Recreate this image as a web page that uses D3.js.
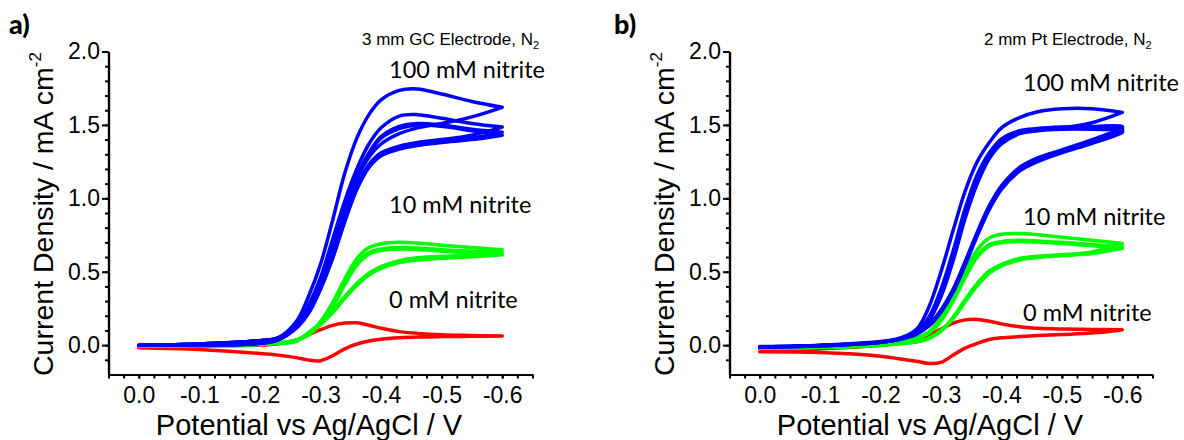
<!DOCTYPE html>
<html><head><meta charset="utf-8">
<script src="https://cdn.jsdelivr.net/npm/d3@7"></script>
<style>
body{margin:0;background:#fff;}
svg{display:block;}
</style></head><body>
<svg id="c" width="1184" height="440"></svg>
<script>
// potential grid (V vs Ag/AgCl) shared by every branch
const potentials = [0, -0.1, -0.2, -0.23, -0.26, -0.28, -0.30, -0.32, -0.34, -0.36, -0.38, -0.40, -0.43, -0.46, -0.50, -0.55, -0.60];

// Panel a: 3 mm GC electrode (current density, mA cm^-2)
const aBlueF1 = [0.00, 0.008, 0.03, 0.05, 0.16, 0.33, 0.55, 0.85, 1.17, 1.41, 1.57, 1.67, 1.735, 1.745, 1.71, 1.66, 1.62];
const aBlueR1 = [0.00, 0.002, 0.012, 0.04, 0.13, 0.26, 0.44, 0.67, 0.92, 1.13, 1.28, 1.37, 1.44, 1.48, 1.51, 1.555, 1.62];
const aBlueF2 = [0.00, 0.008, 0.03, 0.05, 0.13, 0.27, 0.46, 0.72, 0.98, 1.20, 1.37, 1.48, 1.56, 1.57, 1.545, 1.51, 1.485];
const aBlueR2 = [0.00, 0.002, 0.012, 0.035, 0.125, 0.23, 0.40, 0.61, 0.86, 1.08, 1.23, 1.31, 1.355, 1.38, 1.40, 1.43, 1.485];
const aBlueF3 = [0.00, 0.008, 0.03, 0.05, 0.12, 0.25, 0.43, 0.68, 0.94, 1.15, 1.31, 1.42, 1.49, 1.51, 1.50, 1.47, 1.45];
const aBlueR3 = [0.00, 0.002, 0.012, 0.035, 0.12, 0.22, 0.39, 0.60, 0.85, 1.07, 1.22, 1.30, 1.345, 1.37, 1.39, 1.41, 1.45];
const aBlueF4 = [0.00, 0.008, 0.03, 0.05, 0.12, 0.245, 0.42, 0.665, 0.925, 1.14, 1.30, 1.41, 1.475, 1.50, 1.49, 1.46, 1.43];
const aBlueR4 = [0.00, 0.002, 0.012, 0.035, 0.115, 0.215, 0.38, 0.59, 0.84, 1.06, 1.21, 1.29, 1.335, 1.36, 1.38, 1.40, 1.43];

const aGreenF1 = [-0.005, 0.0, 0.008, 0.015, 0.035, 0.075, 0.16, 0.29, 0.45, 0.59, 0.665, 0.69, 0.70, 0.695, 0.68, 0.665, 0.65];
const aGreenR1 = [-0.005, -0.002, 0.005, 0.012, 0.03, 0.085, 0.15, 0.23, 0.33, 0.42, 0.49, 0.535, 0.575, 0.595, 0.605, 0.615, 0.65];
const aGreenF2 = [-0.005, 0.0, 0.008, 0.015, 0.033, 0.07, 0.15, 0.27, 0.425, 0.56, 0.63, 0.655, 0.665, 0.662, 0.65, 0.64, 0.63];
const aGreenR2 = [-0.005, -0.002, 0.005, 0.012, 0.028, 0.08, 0.145, 0.225, 0.325, 0.415, 0.485, 0.53, 0.57, 0.59, 0.60, 0.607, 0.63];
const aGreenF3 = [-0.005, 0.0, 0.008, 0.015, 0.032, 0.068, 0.145, 0.26, 0.41, 0.545, 0.62, 0.645, 0.655, 0.652, 0.64, 0.628, 0.615];
const aGreenR3 = [-0.005, -0.002, 0.005, 0.012, 0.026, 0.078, 0.14, 0.22, 0.318, 0.408, 0.478, 0.522, 0.562, 0.58, 0.592, 0.602, 0.615];

const aRedF = [-0.012, -0.006, 0.0, 0.01, 0.035, 0.07, 0.105, 0.135, 0.15, 0.152, 0.135, 0.115, 0.092, 0.08, 0.071, 0.066, 0.062];
const aRedR = [-0.018, -0.03, -0.057, -0.068, -0.085, -0.102, -0.106, -0.072, -0.025, 0.008, 0.028, 0.04, 0.05, 0.055, 0.058, 0.06, 0.062];

// Panel b: 2 mm Pt electrode
const bBlueF1 = [-0.01, 0.0, 0.025, 0.045, 0.11, 0.26, 0.50, 0.78, 1.05, 1.25, 1.38, 1.48, 1.55, 1.59, 1.61, 1.61, 1.585];
const bBlueR1 = [-0.012, -0.003, 0.02, 0.04, 0.085, 0.18, 0.36, 0.62, 0.90, 1.13, 1.29, 1.39, 1.45, 1.47, 1.48, 1.515, 1.585];
const bBlueF2 = [-0.012, -0.002, 0.02, 0.04, 0.09, 0.19, 0.38, 0.64, 0.93, 1.16, 1.31, 1.405, 1.46, 1.475, 1.485, 1.49, 1.49];
const bBlueR2 = [-0.015, -0.005, 0.02, 0.04, 0.08, 0.14, 0.24, 0.38, 0.57, 0.77, 0.95, 1.085, 1.21, 1.275, 1.33, 1.40, 1.48];
const bBlueF3 = [-0.012, -0.002, 0.02, 0.04, 0.085, 0.17, 0.34, 0.59, 0.88, 1.11, 1.28, 1.38, 1.45, 1.47, 1.48, 1.48, 1.475];
const bBlueR3 = [-0.015, -0.005, 0.02, 0.038, 0.078, 0.135, 0.23, 0.37, 0.555, 0.755, 0.935, 1.07, 1.195, 1.26, 1.32, 1.385, 1.465];
const bBlueF4 = [-0.012, -0.002, 0.02, 0.04, 0.085, 0.165, 0.33, 0.575, 0.865, 1.10, 1.27, 1.37, 1.44, 1.46, 1.47, 1.47, 1.46];
const bBlueR4 = [-0.015, -0.005, 0.02, 0.038, 0.075, 0.13, 0.225, 0.36, 0.545, 0.745, 0.925, 1.06, 1.185, 1.25, 1.31, 1.375, 1.45];

const bGreenF1 = [-0.015, -0.01, 0.005, 0.02, 0.05, 0.09, 0.19, 0.34, 0.50, 0.65, 0.73, 0.755, 0.76, 0.752, 0.735, 0.715, 0.692];
const bGreenR1 = [-0.02, -0.015, 0.0, 0.01, 0.025, 0.048, 0.10, 0.19, 0.31, 0.42, 0.505, 0.55, 0.59, 0.605, 0.615, 0.635, 0.692];
const bGreenF2 = [-0.015, -0.01, 0.005, 0.02, 0.048, 0.085, 0.17, 0.31, 0.47, 0.61, 0.685, 0.705, 0.714, 0.71, 0.70, 0.685, 0.67];
const bGreenR2 = [-0.02, -0.015, 0.0, 0.01, 0.024, 0.046, 0.098, 0.185, 0.30, 0.41, 0.495, 0.545, 0.585, 0.60, 0.612, 0.628, 0.67];
const bGreenF3 = [-0.015, -0.01, 0.005, 0.02, 0.047, 0.083, 0.165, 0.30, 0.46, 0.60, 0.675, 0.698, 0.706, 0.702, 0.692, 0.677, 0.66];
const bGreenR3 = [-0.02, -0.015, 0.0, 0.01, 0.023, 0.045, 0.095, 0.18, 0.295, 0.405, 0.49, 0.54, 0.58, 0.597, 0.61, 0.624, 0.66];

const bRedF = [-0.025, -0.025, 0.0, 0.015, 0.04, 0.07, 0.11, 0.15, 0.172, 0.175, 0.163, 0.145, 0.125, 0.115, 0.11, 0.107, 0.105];
const bRedR = [-0.045, -0.05, -0.075, -0.092, -0.11, -0.125, -0.118, -0.068, -0.02, 0.012, 0.038, 0.05, 0.058, 0.065, 0.072, 0.082, 0.105];

// tick values
const xMajorTicks = [0, -0.1, -0.2, -0.3, -0.4, -0.5, -0.6];
const xMinorTicks = d3.range(0, 29).map(i => +(0.05 - i * 0.025).toFixed(3));
const yMajorTicks = [0, 0.5, 1.0, 1.5, 2.0];
const yMinorTicks = d3.range(-1, 21).map(i => +(i * 0.1).toFixed(2));

// labels
const concLabels = ["100 mM nitrite", "10 mM nitrite", "0 mM nitrite"];

const colors = {blue: "#0000ff", green: "#00ff00", red: "#ff0000"};

const panels = [
  {
    letter: "a)", note: "3 mm GC Electrode, N",
    xr: [108.5, 532.5],
    letterPos: [9, 34], notePos: [362, 45],
    concPos: [[389, 78], [389, 213], [389, 308]],
    titleX: 309, yTitleX: 53,
    red: [[aRedF, aRedR]],
    green: [[aGreenF1, aGreenR1], [aGreenF2, aGreenR2], [aGreenF3, aGreenR3]],
    blue: [[aBlueF1, aBlueR1], [aBlueF2, aBlueR2], [aBlueF3, aBlueR3], [aBlueF4, aBlueR4]]
  },
  {
    letter: "b)", note: "2 mm Pt Electrode, N",
    xr: [729.5, 1152.5],
    letterPos: [614, 34], notePos: [984, 45],
    concPos: [[1023, 91], [1023, 225], [1023, 321]],
    titleX: 930, yTitleX: 674,
    red: [[bRedF, bRedR]],
    green: [[bGreenF1, bGreenR1], [bGreenF2, bGreenR2], [bGreenF3, bGreenR3]],
    blue: [[bBlueF1, bBlueR1], [bBlueF2, bBlueR2], [bBlueF3, bBlueR3], [bBlueF4, bBlueR4]]
  }
];

const svg = d3.select("#c");
const AX = "Liberation Sans, Arial, sans-serif";
const LB = "Lato, 'Open Sans', sans-serif";

panels.forEach(p => {
  const x = d3.scaleLinear().domain([0.05, -0.65]).range(p.xr);
  const y = d3.scaleLinear().domain([-0.2, 2.0]).range([374.5, 51.5]);
  const g = svg.append("g");

  // curves
  const line = d3.line().x(d => x(d[0])).y(d => y(d[1])).curve(d3.curveCatmullRom.alpha(0.5));
  ["red", "green", "blue"].forEach(c => {
    p[c].forEach(([fw, rv]) => {
      const pts = potentials.map((e, i) => [e, fw[i]])
        .concat(potentials.map((e, i) => [e, rv[i]]).reverse());
      g.append("path").attr("d", line(pts)).attr("fill", "none")
        .attr("stroke", colors[c]).attr("stroke-width", 3.5)
        .attr("stroke-linejoin", "round").attr("stroke-linecap", "round");
    });
  });

  // axes
  const fmt = d => (Math.abs(d) < 1e-9 ? 0 : d).toFixed(1);
  const yMinor = g.append("g").attr("transform", `translate(${p.xr[0]},0)`)
    .call(d3.axisLeft(y).tickValues(yMinorTicks).tickSize(3.5).tickFormat("").tickSizeOuter(0));
  const yMajor = g.append("g").attr("transform", `translate(${p.xr[0]},0)`)
    .call(d3.axisLeft(y).tickValues(yMajorTicks).tickSize(6.5).tickPadding(2).tickFormat(fmt).tickSizeOuter(0));
  const xMinor = g.append("g").attr("transform", `translate(0,374.5)`)
    .call(d3.axisBottom(x).tickValues(xMinorTicks).tickSize(4).tickFormat("").tickSizeOuter(0));
  const xMajor = g.append("g").attr("transform", `translate(0,374.5)`)
    .call(d3.axisBottom(x).tickValues(xMajorTicks).tickSize(4).tickPadding(8).tickFormat(fmt).tickSizeOuter(0));
  [yMinor, yMajor, xMinor, xMajor].forEach(a => {
    a.selectAll("path.domain").attr("stroke", "#000").attr("stroke-width", 2.2);
    a.selectAll(".tick line").attr("stroke", "#000").attr("stroke-width", 2);
    a.selectAll("text").attr("font-family", AX).attr("font-size", 23).attr("fill", "#000");
  });

  // axis titles
  g.append("text").attr("x", p.titleX).attr("y", 435).attr("text-anchor", "middle")
    .attr("font-family", AX).attr("font-size", 29).text("Potential vs Ag/AgCl / V");
  const yt = g.append("text").attr("transform", `translate(${p.yTitleX},214) rotate(-90)`)
    .attr("text-anchor", "middle").attr("font-family", AX).attr("font-size", 28.5);
  yt.append("tspan").text("Current Density / mA cm");
  yt.append("tspan").attr("dy", -12).attr("font-size", 17).text("-2");

  // panel letter
  g.append("text").attr("x", p.letterPos[0]).attr("y", p.letterPos[1])
    .attr("font-family", LB).attr("font-weight", "900").attr("font-size", 27).text(p.letter);

  // electrode note
  const nt = g.append("text").attr("x", p.notePos[0]).attr("y", p.notePos[1])
    .attr("font-family", AX).attr("font-size", 17);
  nt.append("tspan").text(p.note);
  nt.append("tspan").attr("dy", 4).attr("font-size", 11).text("2");

  // concentration labels
  concLabels.forEach((t, i) => {
    g.append("text").attr("x", p.concPos[i][0]).attr("y", p.concPos[i][1])
      .attr("font-family", LB).attr("font-size", 23.5).text(t);
  });
});
</script>
</body></html>
